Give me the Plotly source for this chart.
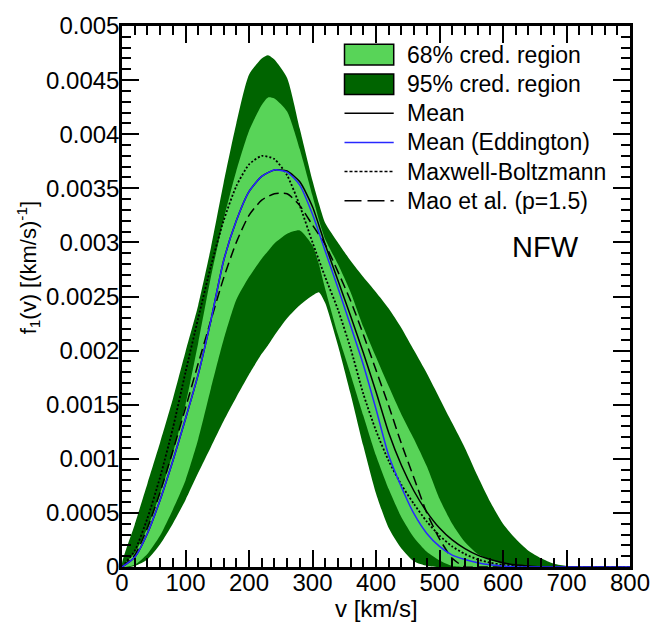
import plotly.graph_objects as go

# Speed grid (km/s) for the credible-region boundaries
V_BAND = [0, 20, 40, 60, 80, 100, 120, 140, 160, 180, 200, 220, 230, 240, 260, 280,
          300, 310, 320, 340, 360, 380, 400, 420, 440, 460, 480, 500, 520, 540, 560,
          580, 600, 620, 640, 660, 680, 700, 720, 740, 760, 780, 800]

# 95% credible region: upper and lower boundaries
UPPER_95 = [0, 0.00039, 0.00077, 0.00115, 0.00155, 0.00199, 0.00242, 0.00295, 0.00355, 0.00410,
            0.00455, 0.00470, 0.00473, 0.00469, 0.00452, 0.00405, 0.00357, 0.00336, 0.00318,
            0.00300, 0.00283, 0.00268, 0.00254, 0.00239, 0.00221, 0.00200, 0.00179, 0.00156,
            0.00133, 0.00110, 0.00084, 0.00060, 0.00040, 0.00026, 0.00015, 0.00008, 0.00003,
            0.00001, 0, 0, 0, 0, 0]
LOWER_95 = [0, 0.00001, 0.00007, 0.00021, 0.00040, 0.00062, 0.00087, 0.00111, 0.00135, 0.00157,
            0.00178, 0.00197, 0.00205, 0.00214, 0.00230, 0.00242, 0.00251, 0.00254, 0.00244,
            0.00205, 0.00160, 0.00112, 0.00068, 0.00036, 0.00017, 0.00005, 0.00001, 0,
            0, 0, 0, 0, 0, 0, 0, 0, 0, 0, 0, 0, 0, 0, 0]

# 68% credible region: upper and lower boundaries
UPPER_68 = [0, 0.00013, 0.00036, 0.00068, 0.00105, 0.00150, 0.00207, 0.00268, 0.00321, 0.00366,
            0.00403, 0.00427, 0.00434, 0.00433, 0.00421, 0.00386, 0.00343, 0.00321, 0.00303,
            0.00280, 0.00254, 0.00222, 0.00194, 0.00167, 0.00141, 0.00118, 0.00093, 0.00063,
            0.00040, 0.00023, 0.00012, 0.00007, 0.00003, 0.00001, 0, 0, 0, 0, 0, 0, 0, 0, 0]
LOWER_68 = [0, 0.00002, 0.00012, 0.00029, 0.00053, 0.00080, 0.00118, 0.00165, 0.00210, 0.00247,
            0.00268, 0.00285, 0.00292, 0.00299, 0.00308, 0.00311, 0.00297, 0.00280, 0.00257,
            0.00215, 0.00178, 0.00140, 0.00103, 0.00072, 0.00046, 0.00027, 0.00014, 0.00006,
            0.00001, 0, 0, 0, 0, 0, 0, 0, 0, 0, 0, 0, 0, 0, 0]

# Speed grid (km/s) for the distribution curves
V = list(range(0, 801, 20))

MEAN = [0, 0.00009, 0.00031, 0.00062, 0.00098, 0.00137, 0.00178, 0.00228, 0.00283, 0.00320,
        0.00347, 0.00361, 0.00367, 0.00366, 0.00356, 0.00333, 0.00298, 0.00265, 0.00232,
        0.00198, 0.00162, 0.00124, 0.00094, 0.00070, 0.00051, 0.00036, 0.00025, 0.00017,
        0.00011, 0.00007, 0.00004, 0.00002, 0.00001, 0, 0, 0, 0, 0, 0, 0, 0]
MEAN_EDDINGTON = [0, 0.00009, 0.00031, 0.00062, 0.00098, 0.00137, 0.00178, 0.00228, 0.00283,
                  0.00320, 0.00347, 0.00361, 0.00367, 0.00365, 0.00353, 0.00326, 0.00292,
                  0.00258, 0.00223, 0.00187, 0.00146, 0.00103, 0.00074, 0.00049, 0.00031,
                  0.00019, 0.00011, 0.00007, 0.00004, 0.00002, 0.00001, 0, 0, 0, 0, 0, 0,
                  0, 0, 0, 0]
MAXWELL_BOLTZMANN = [0, 0.00015, 0.00045, 0.00083, 0.00128, 0.00180, 0.00230, 0.00278, 0.00320,
                     0.00352, 0.00372, 0.00380, 0.00377, 0.00362, 0.00334, 0.00300, 0.00268,
                     0.00238, 0.00202, 0.00160, 0.00126, 0.00098, 0.00076, 0.00058, 0.00042,
                     0.00029, 0.00019, 0.00012, 0.00007, 0.00004, 0.00002, 0.00001, 0, 0, 0,
                     0, 0, 0, 0, 0, 0]
MAO = [0, 0.00011, 0.00036, 0.00069, 0.00107, 0.00147, 0.00188, 0.00228, 0.00267, 0.00300,
       0.00325, 0.00339, 0.00345, 0.00345, 0.00334, 0.00316, 0.00298, 0.00273, 0.00246,
       0.00215, 0.00182, 0.00149, 0.00114, 0.00082, 0.00050, 0.00026, 0.00008, 0, 0, 0, 0,
       0, 0, 0, 0, 0, 0, 0, 0, 0, 0]

X_TICKS = [0, 100, 200, 300, 400, 500, 600, 700, 800]
Y_TICKS = [0, 0.0005, 0.001, 0.0015, 0.002, 0.0025, 0.003, 0.0035, 0.004, 0.0045, 0.005]
Y_TICK_TEXT = ["0", "0.0005", "0.001", "0.0015", "0.002", "0.0025", "0.003", "0.0035",
               "0.004", "0.0045", "0.005"]

LEGEND_LABELS = ["68% cred. region", "95% cred. region", "Mean", "Mean (Eddington)",
                 "Maxwell-Boltzmann", "Mao et al. (p=1.5)"]

LIGHT_GREEN = "rgb(88,212,88)"
DARK_GREEN = "rgb(0,100,0)"
BLUE = "rgb(40,40,255)"
FONT = "Liberation Sans, Arial, sans-serif"

W, H = 662, 634
ML, MR, MT, MB_ = 122, 24, 19, 67
PW, PH = W - ML - MR, H - MT - MB_


def px_x(p):
    return (p - ML) / PW


def px_y(p):
    return (H - MB_ - p) / PH


fig = go.Figure()


def band(upper, lower, color):
    fig.add_trace(go.Scatter(
        x=V_BAND + V_BAND[::-1], y=upper + lower[::-1], fill="toself",
        fillcolor=color, mode="lines", line=dict(width=0, shape="spline", smoothing=0.6),
        hoverinfo="skip", showlegend=False))


band(UPPER_95, LOWER_95, DARK_GREEN)
band(UPPER_68, LOWER_68, LIGHT_GREEN)

curves = [
    (MAXWELL_BOLTZMANN, "black", "2px,2px", 1.8),
    (MAO, "black", "10px,5px", 1.5),
    (MEAN, "black", "solid", 1.5),
    (MEAN_EDDINGTON, BLUE, "solid", 1.5),
]
for ys, col, dash, wd in curves:
    fig.add_trace(go.Scatter(x=V, y=ys, mode="lines",
                             line=dict(color=col, width=wd, dash=dash, shape="spline",
                                       smoothing=0.6),
                             showlegend=False))

# Legend block drawn in paper space
shapes = []
annotations = []
row_y = [48, 78, 107.5, 137, 166.5, 196]
key_x0, key_x1, text_x = 348, 398, 409
for i, (lab, yy) in enumerate(zip(LEGEND_LABELS, row_y)):
    if i < 2:
        shapes.append(dict(type="rect", xref="paper", yref="paper",
                           x0=px_x(key_x0), x1=px_x(key_x1),
                           y0=px_y(yy + 10.5), y1=px_y(yy - 10.5),
                           fillcolor=LIGHT_GREEN if i == 0 else DARK_GREEN,
                           line=dict(color="black", width=1.5)))
    else:
        col, dash = {2: ("black", "solid"), 3: (BLUE, "solid"),
                     4: ("black", "3px,2px"), 5: ("black", "17px,6px")}[i]
        shapes.append(dict(type="line", xref="paper", yref="paper",
                           x0=px_x(key_x0), x1=px_x(key_x1), y0=px_y(yy), y1=px_y(yy),
                           line=dict(color=col, width=1.5, dash=dash)))
    annotations.append(dict(xref="paper", yref="paper", x=px_x(text_x), y=px_y(yy),
                            xanchor="left", yanchor="middle", showarrow=False, text=lab,
                            font=dict(size=23, color="black", family=FONT)))

annotations.append(dict(xref="paper", yref="paper", x=px_x(552), y=px_y(243),
                        xanchor="center", yanchor="middle", showarrow=False, text="NFW",
                        font=dict(size=29, color="black", family=FONT)))
annotations.append(dict(xref="paper", yref="paper", x=px_x(380), y=px_y(609),
                        xanchor="center", yanchor="middle", showarrow=False,
                        text="v [km/s]", font=dict(size=24, color="black", family=FONT)))
annotations.append(dict(xref="paper", yref="paper", x=px_x(27), y=px_y(264),
                        xanchor="center", yanchor="middle", textangle=-90, showarrow=False,
                        text="f<sub>1</sub>(v) [(km/s)<sup>-1</sup>]",
                        font=dict(size=22, color="black", family=FONT)))

axis_common = dict(
    showgrid=False, zeroline=False, showline=True, linecolor="black", linewidth=2.5,
    mirror="ticks", ticks="inside", ticklen=17, tickwidth=2, tickcolor="black",
    tickfont=dict(size=24, color="black", family=FONT),
)

fig.update_xaxes(range=[0, 800], tickmode="array", tickvals=X_TICKS,
                 ticktext=[str(t) for t in X_TICKS], ticklabelstandoff=-8,
                 minor=dict(tickmode="linear", tick0=0, dtick=20, ticks="inside",
                            ticklen=9, tickwidth=1.5, tickcolor="black"),
                 **axis_common)
fig.update_yaxes(range=[0, 0.005], tickmode="array", tickvals=Y_TICKS, ticktext=Y_TICK_TEXT,
                 ticklabelstandoff=-5,
                 minor=dict(tickmode="linear", tick0=0, dtick=0.0001, ticks="inside",
                            ticklen=9, tickwidth=1.5, tickcolor="black"),
                 **axis_common)

fig.update_layout(
    width=W, height=H, margin=dict(l=ML, r=MR, t=MT, b=MB_),
    paper_bgcolor="white", plot_bgcolor="white",
    shapes=shapes, annotations=annotations, showlegend=False,
)

fig.write_html("out.html")
